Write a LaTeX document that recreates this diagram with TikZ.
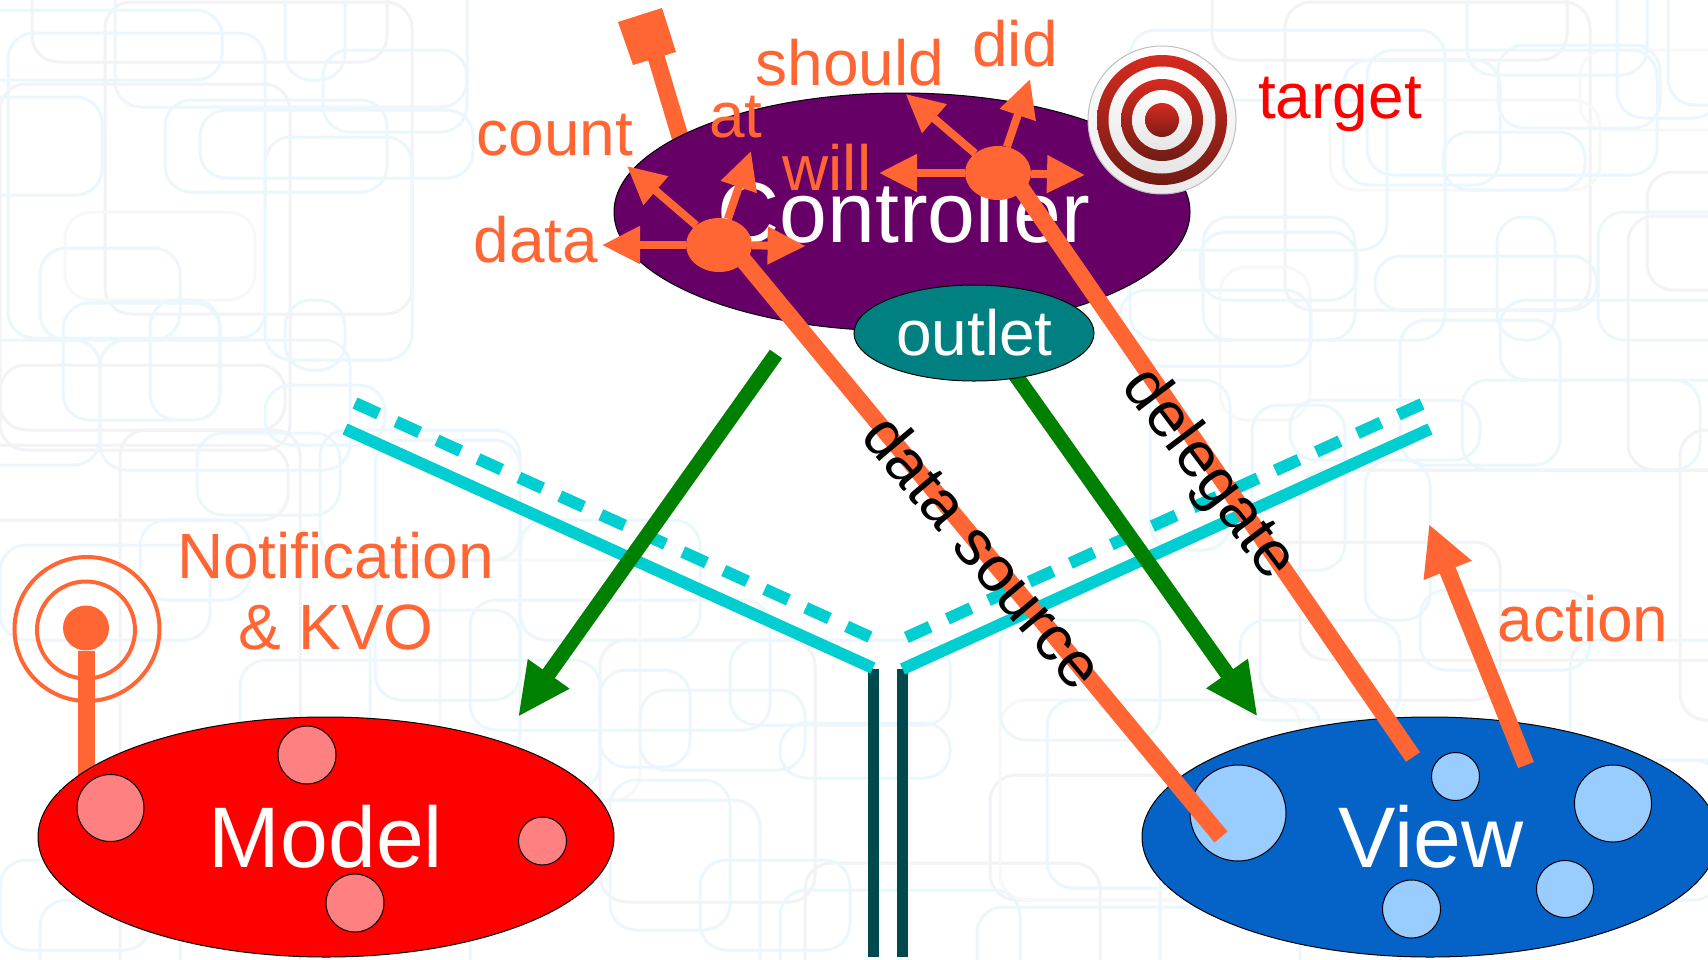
\documentclass[tikz,border=0pt]{standalone}
\usepackage{fontspec}
\setmainfont{Liberation Sans}
\usetikzlibrary{shapes.geometric,arrows.meta}
\definecolor{orng}{HTML}{FF6633}
\definecolor{purp}{HTML}{660066}
\definecolor{tealc}{HTML}{008080}
\definecolor{viewb}{HTML}{0563C8}
\definecolor{lightb}{HTML}{99CCFF}
\definecolor{pinkc}{HTML}{FF8080}
\definecolor{cyanl}{HTML}{00CED1}
\definecolor{darkl}{HTML}{004A4D}
\definecolor{grn}{HTML}{008000}
\definecolor{bgb}{HTML}{EBF7FC}
\definecolor{bgg}{HTML}{F2F2F7}
\definecolor{bgf}{HTML}{F8F8F6}
\definecolor{tred}{HTML}{D62A1F}
\definecolor{tdark}{HTML}{701C14}
\tikzset{
  blob/.style={ellipse,draw=black,line width=1pt,inner sep=0pt},
  spot/.style={blob,minimum width=#1,minimum height=#1},
  lab/.style={inner sep=0pt,anchor=base,text=orng,font=\fontsize{64}{70}\selectfont},
  big/.style={inner sep=0pt,anchor=base,text=white,font=\fontsize{86}{90}\selectfont},
  rotlab/.style={inner sep=0pt,text=black,font=\fontsize{64}{70}\selectfont},
  dotn/.style={ellipse,fill=orng,inner sep=0pt,minimum width=66pt,minimum height=54pt},
  smallarrow/.style={draw=orng,line width=8pt,-{Triangle[length=38pt,width=36pt]}},
  thick orange/.style={draw=orng,line width=17pt},
  greenarrow/.style={draw=grn,line width=15pt,-{Triangle[length=53pt,width=47pt]}},
  cyansolid/.style={draw=cyanl,line width=12pt},
  cyandash/.style={draw=cyanl,line width=12pt,dash pattern=on 26pt off 19pt},
  stem/.style={draw=darkl,line width=11.5pt},
  ring/.style={ellipse,draw=orng,line width=4pt,inner sep=0pt},
  bgbox/.style={rounded corners=26pt,line width=3pt},
  tgt/.style={circle,inner sep=0pt,minimum size=#1}
}
\begin{document}
\begin{tikzpicture}[x=1pt,y=-1pt]
\useasboundingbox (0,0) rectangle (1708,959);
\clip (0,0) rectangle (1708,959);
\fill[white] (0,0) rectangle (1708,959);
% background texture
\foreach \a/\b/\c/\d in {
 32/-30/387/62, 105/2/412/314, 1212/-30/1567/60, 1285/2/1590/310,
 1628/216/1760/470, 1647/172/1760/290, 1260/542/1500/700, 600/640/815/902,
 805/863/1100/1000, 0/365/285/430, 0/84/290/450, 1300/470/1760/660,
 -30/445/288/520, 120/430/300/1000, 990/775/1230/900, 1680/430/1760/720}
 {\draw[bgbox,bgg] (\a,\b) rectangle (\c,\d);}
\foreach \a/\b/\c/\d in {
 65/212/255/300, 1220/267/1310/420, 1330/100/1600/190, 440/560/640/800,
 1000/700/1300/900, 1580/50/1760/130}
 {\draw[bgbox,bgf] (\a,\b) rectangle (\c,\d);}
\foreach \a/\b/\c/\d in {
 8/33/265/338, 115/-30/467/107, -30/10/222/80, 165/100/387/192, 285/-30/345/80,
 323/50/467/132, -30/97/102/195, 265/137/412/360, 200/110/473/178, 40/248/180/340,
 63/303/220/420, 100/340/350/470, 285/300/345/370, -30/340/100/465, 150/300/220/420,
 197/433/340/515, 265/385/385/445, 320/430/520/560, 140/520/250/600, 0/545/210/640,
 375/440/520/700, 520/520/700/640, 370/610/520/760, 470/600/770/730, 240/660/600/790,
 730/640/950/725, 780/723/950/778, 600/670/690/767, 640/690/805/770, 610/780/730/930,
 0/860/150/950, 40/900/180/1000, 470/800/760/1000, 700/860/850/950, 780/890/1020/1000,
 977/907/1300/1000, 1047/700/1320/888, 1000/620/1160/740, 1160/820/1400/1000,
 1130/30/1445/340, 1467/-30/1647/75, 1498/45/1660/128, 1617/-30/1720/118, 1668/-30/1750/105,
 1443/132/1585/190, 1367/50/1657/175, 1343/60/1500/185, 1203/217/1355/340, 1497/217/1555/340,
 1200/232/1357/300, 1130/100/1387/250, 1375/256/1597/310, 1120/290/1311/366,
 1598/212/1760/340, 1462/380/1700/470, 1252/405/1345/570, 1365/460/1430/620, 1240/620/1400/720,
 1420/590/1590/670, 1570/640/1760/760, 1560/760/1720/900, 1290/400/1480/460, 1500/300/1760/380,
 1400/320/1560/465, 1150/380/1230/550}
 {\draw[bgbox,bgb] (\a,\b) rectangle (\c,\d);}

% radio mast
\node[ellipse,fill=orng,inner sep=0pt,minimum width=46pt,minimum height=45pt] (radiodot) at (86,628) {};
\node[ring,minimum width=98pt,minimum height=97pt] (radioin) at (86,630) {};
\node[ring,minimum width=145pt,minimum height=144pt] (radioout) at (87,629) {};
\coordinate (mastfoot) at (86,790);
\draw[thick orange] (radiodot) -- (mastfoot);

% Model
\node[blob,fill=red,minimum width=576pt,minimum height=240pt] (model) at (326,837) {};
\node[spot=67pt,fill=pinkc] (m1) at (110.5,808) {};
\node[spot=58pt,fill=pinkc] (m2) at (307,755) {};
\node[spot=48pt,fill=pinkc] (m3) at (542.5,841) {};
\node[spot=58pt,fill=pinkc] (m4) at (355,903) {};
\node[big] (modeltext) at (326,867) {Model};

% View
\node[blob,fill=viewb,minimum width=576pt,minimum height=240pt] (view) at (1430,837) {};
\node[spot=96pt,fill=lightb] (v1) at (1238,813) {};
\node[spot=48pt,fill=lightb] (v2) at (1455.5,776.5) {};
\node[spot=77pt,fill=lightb] (v3) at (1613,803.5) {};
\node[spot=57pt,fill=lightb] (v4) at (1565,889) {};
\node[spot=58pt,fill=lightb] (v5) at (1411.5,909) {};
\node[big] (viewtext) at (1431,867) {View};

% funnel
\coordinate (sl1) at (345,429); \coordinate (sl2) at (873,668);
\coordinate (sr1) at (1430,429); \coordinate (sr2) at (902.5,669);
\coordinate (dl1) at (355,403); \coordinate (dl2) at (870,637);
\coordinate (dr1) at (1422,404); \coordinate (dr2) at (905,638);
\coordinate (st1a) at (873.5,669); \coordinate (st1b) at (873.5,957);
\coordinate (st2a) at (902.5,669); \coordinate (st2b) at (902.5,957);
\draw[stem] (st1a) -- (st1b);
\draw[stem] (st2a) -- (st2b);
\draw[cyansolid] (sl1) -- (sl2);
\draw[cyansolid] (sr1) -- (sr2);
\draw[cyandash] (dl1) -- (dl2);
\draw[cyandash] (dr1) -- (dr2);

% antenna behind controller
\coordinate (antfoot) at (690,170);
\coordinate (anttop) at (654,50);
\draw[thick orange] (antfoot) -- (anttop);
\fill[orng] (618,22) -- (662,8) -- (676,52) -- (633,65) -- cycle;

% green arrows
\coordinate (gl1) at (776,354); \coordinate (gl2) at (518,717);
\coordinate (gr1) at (997.6,350); \coordinate (gr2) at (1257.7,716.7);
\draw[greenarrow] (gl1) -- (gl2);
\draw[greenarrow] (gr1) -- (gr2);

% Controller
\node[blob,fill=purp,minimum width=576pt,minimum height=238pt] (ctrl) at (902,212) {};
\node[big] (ctrltext) at (904,242) {Controller};
\node[blob,fill=tealc,minimum width=240pt,minimum height=96pt] (outlet) at (974,333) {};
\node[lab,text=white] (outlettext) at (974.5,355) {outlet};

% target
\node[tgt=148pt,draw=black!25,line width=1pt,top color=white,bottom color=black!8] (t0) at (1162,120) {};
\node[tgt=130pt,top color=tred,bottom color=tdark] (t1) at (1162,120) {};
\node[tgt=107pt,top color=white,bottom color=black!10] (t2) at (1162,120) {};
\node[tgt=82pt,top color=tred,bottom color=tdark] (t3) at (1162,120) {};
\node[tgt=60pt,top color=white,bottom color=black!10] (t4) at (1162,120) {};
\node[tgt=34pt,top color=tred,bottom color=tdark!90!tred] (t5) at (1162,120) {};

% dots and small arrows
\node[dotn] (ddot) at (719,245) {};
\node[dotn] (wdot) at (998,173) {};
\coordinate (dL) at (602,245); \coordinate (dR) at (805.6,246);
\coordinate (dC) at (627,166); \coordinate (dA) at (751,151);
\coordinate (wL) at (879,173); \coordinate (wR) at (1085,175);
\coordinate (wS) at (905.6,94); \coordinate (wD) at (1030,79);
\draw[smallarrow] (ddot) -- (dL);
\draw[smallarrow] (ddot) -- (dR);
\draw[smallarrow] (ddot) -- (dC);
\draw[smallarrow] (ddot) -- (dA);
\draw[smallarrow] (wdot) -- (wL);
\draw[smallarrow] (wdot) -- (wR);
\draw[smallarrow] (wdot) -- (wS);
\draw[smallarrow] (wdot) -- (wD);

% long orange connectors
\coordinate (dsstart) at (735,250);
\coordinate (dgstart) at (1012,175);
\coordinate (dsend) at (1221,837);
\coordinate (dgend) at (1413,757);
\draw[thick orange] (dsstart) -- (dsend);
\draw[thick orange] (dgstart) -- (dgend);
\coordinate (act1) at (1526,765); \coordinate (act2) at (1429,524);
\draw[draw=orng,line width=17pt,-{Triangle[length=50pt,width=48pt]}] (act1) -- (act2);

% labels
\node[lab] (lcount) at (555,155) {count};
\node[lab] (lat) at (736,137) {at};
\node[lab] (ldata) at (536,262) {data};
\node[lab] (lshould) at (850,85) {should};
\node[lab] (ldid) at (1015,66) {did};
\node[lab] (lwill) at (827,190) {will};
\node[lab,text=red] (ltarget) at (1340,118) {target};
\node[lab] (laction) at (1583,641) {action};
\node[lab] (lnotif) at (335.5,578) {Notification};
\node[lab] (lkvo) at (336,649) {\& KVO};
\node[rotlab,rotate=-50] (lds) at (984,551) {data source};
\node[rotlab,rotate=-53] (ldg) at (1208,475) {delegate};
\end{tikzpicture}
\end{document}
